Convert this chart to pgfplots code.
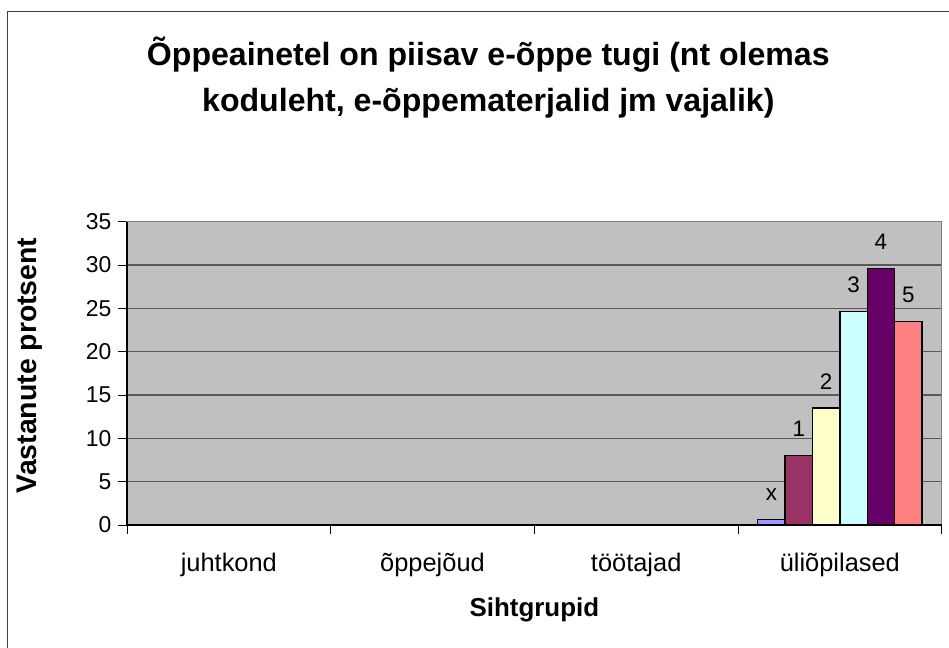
\documentclass[border=0pt]{standalone}
\usepackage{pgfplots}
\pgfplotsset{compat=1.18}
\usepackage{fontspec}
\setmainfont{Liberation Sans}
\definecolor{plotbg}{HTML}{C0C0C0}
\definecolor{cx}{HTML}{9999FF}
\definecolor{c1}{HTML}{993366}
\definecolor{c2}{HTML}{FFFFCC}
\definecolor{c3}{HTML}{CCFFFF}
\definecolor{c4}{HTML}{660066}
\definecolor{c5}{HTML}{FF8080}
\definecolor{frame}{HTML}{404040}
\begin{document}
\begin{tikzpicture}
\useasboundingbox (0,0) rectangle (949bp,648bp);
\draw[frame, line width=1.6bp] (7.5bp,0) -- (7.5bp,636.5bp) -- (949bp,636.5bp);
\begin{axis}[
  at={(127bp,123bp)}, anchor=south west,
  scale only axis, width=814.7bp, height=303.3bp,
  xmin=-0.5, xmax=3.5, ymin=0, ymax=35,
  ytick={0,5,...,35},
  /pgf/number format/assume math mode=true,
  xtick={-0.5,0.5,1.5,2.5,3.5}, xticklabels={},
  extra x ticks={0,1,2,3},
  extra x tick labels={juhtkond,õppejõud,töötajad,üliõpilased},
  extra x tick style={major tick length=0pt, grid=none,
    tick label style={font=\fontsize{25.5}{30}\selectfont, anchor=base, yshift=-46bp}},
  tick align=outside, major tick length=9bp,
  tick style={black, line width=1bp},
  xtick pos=bottom, ytick pos=left,
  ymajorgrids, grid style={black!65, line width=1.2bp},
  axis line style={draw=black!50, line width=1.2bp},
  axis background/.style={fill=plotbg},
  yticklabel style={font=\fontsize{23}{27}\selectfont, xshift=-3bp},
  ylabel={Vastanute protsent},
  ylabel style={font=\bfseries\fontsize{28.5}{32}\selectfont, at={(axis description cs:0,0.526)}, anchor=center, yshift=97bp},
  xlabel={Sihtgrupid},
  xlabel style={font=\bfseries\fontsize{26}{30}\selectfont, at={(axis description cs:0.5,0)}, anchor=center, yshift=-85bp},
  title={Õppeainetel on piisav e-õppe tugi (nt olemas\\koduleht, e-õppematerjalid jm vajalik)},
  title style={font=\bfseries\fontsize{32.2}{46}\selectfont, align=center, at={(axis description cs:0.4435,1)}, anchor=center, yshift=138bp},
  bar width=0.1346,
  every axis plot/.append style={ybar, draw=black, line width=1.3bp},
  nodes near coords style={font=\fontsize{22.5}{26}\selectfont, text=black, yshift=15bp},
  after end axis/.code={
    \draw[black, line width=1.3bp] (rel axis cs:0,1) -- (rel axis cs:0,0) -- (rel axis cs:1,0);
  },
]
\addplot[fill=cx, bar shift=-0.3365, nodes near coords={x}, nodes near coords style={xshift=-68.5bp}] coordinates {(3,0.6)};
\addplot[fill=c1, bar shift=-0.2019, nodes near coords={1}, nodes near coords style={xshift=-41.1bp}] coordinates {(3,8.0)};
\addplot[fill=c2, bar shift=-0.0673, nodes near coords={2}, nodes near coords style={xshift=-13.7bp}] coordinates {(3,13.5)};
\addplot[fill=c3, bar shift=0.0673, nodes near coords={3}, nodes near coords style={xshift=13.7bp}] coordinates {(3,24.6)};
\addplot[fill=c4, bar shift=0.2019, nodes near coords={4}, nodes near coords style={xshift=41.1bp}] coordinates {(3,29.6)};
\addplot[fill=c5, bar shift=0.3365, nodes near coords={5}, nodes near coords style={xshift=68.5bp}] coordinates {(3,23.45)};
\end{axis}
\end{tikzpicture}
\end{document}
